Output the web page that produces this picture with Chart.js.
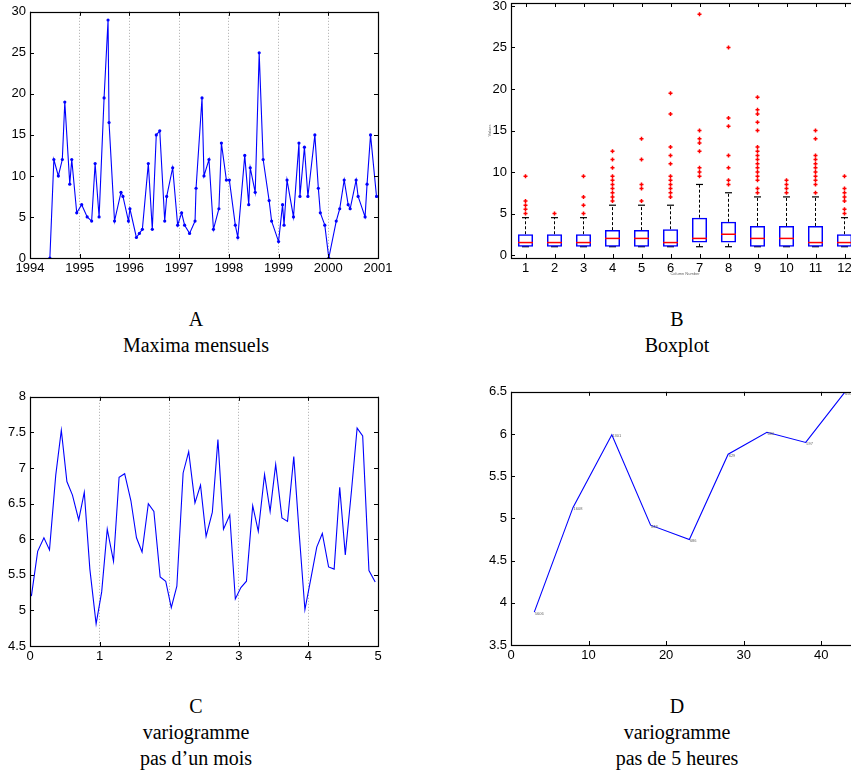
<!DOCTYPE html>
<html>
<head>
<meta charset="utf-8">
<script src="https://cdn.jsdelivr.net/npm/chart.js@4.4.0/dist/chart.umd.min.js"></script>
<style>
  html, body { margin: 0; padding: 0; background: #fff; width: 851px; height: 784px; overflow: hidden; }
  .panel { position: absolute; }
  .cap {
    position: absolute; width: 320px; text-align: center;
    font-family: "Liberation Serif", "DejaVu Serif", serif;
    font-size: 20px; line-height: 26px; color: #000;
  }
</style>
</head>
<body>

<canvas id="chartA" class="panel" width="400" height="285" style="left:0;top:0"></canvas>
<canvas id="chartB" class="panel" width="400" height="295" style="left:470px;top:-10px"></canvas>
<canvas id="chartC" class="panel" width="400" height="290" style="left:0;top:385px"></canvas>
<canvas id="chartD" class="panel" width="400" height="290" style="left:470px;top:380px"></canvas>

<div class="cap" style="left:36px;top:306px">A<br>Maxima mensuels</div>
<div class="cap" style="left:517px;top:306px">B<br>Boxplot</div>
<div class="cap" style="left:36px;top:693px">C<br>variogramme<br>pas d’un mois</div>
<div class="cap" style="left:517px;top:693px">D<br>variogramme<br>pas de 5 heures</div>

<script>
// ---- A : maxima mensuels ----
const aDates = [1994.40,1994.48,1994.57,1994.65,1994.70,1994.80,1994.84,1994.94,1995.04,1995.15,
  1995.24,1995.31,1995.39,1995.49,1995.57,1995.59,1995.70,1995.83,1995.87,1995.98,
  1996.01,1996.14,1996.20,1996.26,1996.38,1996.46,1996.54,1996.61,1996.71,1996.75,
  1996.87,1996.97,1997.05,1997.11,1997.21,1997.32,1997.34,1997.46,1997.50,1997.60,
  1997.69,1997.80,1997.85,1997.95,1998.01,1998.13,1998.18,1998.32,1998.40,1998.43,
  1998.53,1998.61,1998.69,1998.81,1998.86,1999.00,1999.08,1999.11,1999.17,1999.30,
  1999.41,1999.43,1999.52,1999.59,1999.73,1999.80,1999.84,1999.93,2000.01,2000.16,
  2000.23,2000.32,2000.40,2000.44,2000.56,2000.60,2000.74,2000.78,2000.85,2000.97]
const aMax = [0,12,10,12,19,9,12,5.5,6.5,5,
  4.5,11.5,5,19.5,29,16.5,4.5,8,7.5,4.5,
  6,2.5,3,3.5,11.5,3.5,15,15.5,4.5,7.5,
  11,4,5.5,4,3,4.5,8.5,19.5,10,12,
  3.5,6,14,9.5,9.5,4,2.5,12.5,6.5,11,
  8,25,12,7,4.5,2,6.5,4,9.5,5,
  14,7.5,13.5,7.5,15,8.5,5.5,4,0,4.5,
  6,9.5,6.5,6,9.5,7.5,5,9,15,7.5]
const aYearTicks = [1994,1995,1996,1997,1998,1999,2000,2001]
const aValueTicks = [0,5,10,15,20,25,30]

// ---- B : boxplot by month ----
const bColumns = [1,2,3,4,5,6,7,8,9,10,11,12]
const bQ1 = [1,1,1,1,1,1,1.5,1.5,1,1,1,1]
const bQ3 = [2.5,2.5,2.5,3,3,3.1,4.5,4,3.5,3.5,3.5,2.5]
const bMedian = [1.5,1.5,1.5,2,2,1.5,2,2.5,2,2,1.5,1.5]
const bWhiskHigh = [4.5,4.5,4.5,6,6,6,8.5,7.5,7,7,7,4.5]
const bWhiskLow = [1,1,1,1,1,1,1,1,1,1,1,1]
const bOutliers = [
  [5,5.5,6,6.5,9.5],
  [5],
  [5,6,7,9.5],
  [6.5,7,7.5,8,8.5,9,9.5,10.5,11.5,12.5],
  [6.5,8,8.5,11.5,14],
  [7,7.5,8,8.5,9,9.5,11,12,13,17,19.5],
  [9.5,10,10.5,12.5,13.5,14,15,29],
  [8.5,9,10.5,12,15.5,16.5,25],
  [7.5,8,9,9.5,10,10.5,11,11.5,12,12.5,13,15,16,17,17.5,19],
  [7.5,8,8.5,9],
  [7.5,8.5,9,9.5,10,10.5,11,11.5,12,14,15],
  [5,5.5,6.5,7,7.5,8,9.5]
]
const bValueTicks = [0,5,10,15,20,25,30]

// ---- C : variogramme, pas d'un mois ----
const cLags = [0.02,0.11,0.20,0.28,0.37,0.45,0.53,0.61,0.70,0.78,0.86,0.95,
  1.03,1.11,1.20,1.28,1.36,1.45,1.53,1.61,1.70,1.78,1.87,1.95,
  2.03,2.11,2.20,2.28,2.37,2.45,2.53,2.62,2.70,2.78,2.87,2.95,
  3.03,3.11,3.20,3.28,3.37,3.45,3.53,3.62,3.70,3.79,3.87,3.95,
  4.04,4.12,4.20,4.29,4.37,4.45,4.53,4.62,4.70,4.78,4.87,4.96]
const cGamma = [5.20,5.83,6.02,5.85,6.90,7.53,6.81,6.62,6.27,6.66,5.58,4.81,
  5.26,6.14,5.69,6.87,6.92,6.54,6.02,5.82,6.50,6.39,5.47,5.41,
  5.04,5.34,6.93,7.23,6.51,6.76,6.04,6.38,7.40,6.14,6.34,5.16,
  5.32,5.41,6.47,6.11,6.91,6.39,7.05,6.30,6.25,7.16,6.05,5.01,
  5.47,5.89,6.08,5.61,5.58,6.73,5.78,6.69,7.56,7.45,5.56,5.40]
const cLagTicks = [0,1,2,3,4,5]
const cGammaTicks = [4.5,5,5.5,6,6.5,7,7.5,8]

// ---- D : variogramme, pas de 5 heures ----
const dLags = [3,8,13,18,23,28,33,38,43]
const dGamma = [3.89,5.13,5.99,4.92,4.75,5.76,6.02,5.90,6.49]
const dPairs = ['5606','1608','1301','848','686','629','680','597','650']
const dLagTicks = [0,10,20,30,40]
const dGammaTicks = [3.5,4,4.5,5,5.5,6,6.5]

Chart.defaults.font.family = '"Liberation Sans", Arial, sans-serif'
Chart.defaults.font.size = 13
Chart.defaults.color = '#000'
Chart.defaults.animation = false
Chart.defaults.plugins.legend.display = false
Chart.defaults.plugins.tooltip.enabled = false

// matlab-ish box around the axes, ticks pointing inward
const framePlugin = {
  id: 'frame',
  afterDraw(chart) {
    const {ctx, chartArea: a, scales} = chart
    const tl = 4
    ctx.save()
    ctx.strokeStyle = '#000'
    ctx.lineWidth = 1
    ctx.beginPath()
    scales.x.ticks.forEach(t => {
      const px = Math.round(scales.x.getPixelForValue(t.value)) + 0.5
      ctx.moveTo(px, a.bottom); ctx.lineTo(px, a.bottom - tl)
      ctx.moveTo(px, a.top); ctx.lineTo(px, a.top + tl)
    })
    scales.y.ticks.forEach(t => {
      const py = Math.round(scales.y.getPixelForValue(t.value)) + 0.5
      ctx.moveTo(a.left, py); ctx.lineTo(a.left + tl, py)
      ctx.moveTo(a.right, py); ctx.lineTo(a.right - tl, py)
    })
    ctx.stroke()
    ctx.lineWidth = 1.2
    ctx.strokeRect(Math.round(a.left) + 0.5, Math.round(a.top) + 0.5,
      Math.round(a.right - a.left), Math.round(a.bottom - a.top))
    ctx.restore()
  }
}

// tiny pair-count labels next to the points of panel D
const pairLabelPlugin = {
  id: 'pairLabels',
  afterDatasetsDraw(chart, args, opts) {
    if (!opts.labels) return
    const ctx = chart.ctx
    const meta = chart.getDatasetMeta(0)
    ctx.save()
    ctx.font = '4px "Liberation Sans", Arial, sans-serif'
    ctx.fillStyle = '#666'
    ctx.textBaseline = 'middle'
    meta.data.forEach((pt, i) => ctx.fillText(opts.labels[i], pt.x + 0.5, pt.y + 1.5))
    ctx.restore()
  }
}

function fixedTicks(values) { return scale => { scale.ticks = values.map(v => ({value: v})) } }
function fixWidth(w) { return scale => { scale.width = w } }
function fixHeight(h) { return scale => { scale.height = h } }
const plainNumber = v => String(v)

function axes(o) {
  return {
    x: {
      type: 'linear', min: o.xMin, max: o.xMax, offset: false,
      afterBuildTicks: fixedTicks(o.xTicks), afterFit: fixHeight(o.xHeight),
      ticks: {padding: 3, maxRotation: 0, autoSkip: false, callback: plainNumber},
      grid: {display: !!o.xGrid, color: '#aaaaaa', lineWidth: 1, drawTicks: false},
      border: {display: false, dash: [1, 2]},
      title: o.xTitle || {display: false}
    },
    y: {
      type: 'linear', min: o.yMin, max: o.yMax,
      afterBuildTicks: fixedTicks(o.yTicks), afterFit: fixWidth(o.yWidth),
      ticks: {padding: 4, callback: plainNumber},
      grid: {display: false, drawTicks: false},
      border: {display: false},
      title: o.yTitle || {display: false}
    }
  }
}

// A
new Chart(document.getElementById('chartA'), {
  type: 'scatter',
  data: {
    datasets: [{
      data: aDates.map((d, i) => ({x: d, y: aMax[i]})),
      showLine: true, borderColor: '#0000ff', borderWidth: 1.1,
      pointRadius: 1.6, pointBackgroundColor: '#0000ff', pointBorderWidth: 0
    }]
  },
  options: {
    responsive: false,
    layout: {padding: {left: 0, top: 8, right: 22, bottom: 0}},
    scales: axes({xMin: 1994, xMax: 2001, xTicks: aYearTicks, xHeight: 27, xGrid: true,
                  yMin: 0, yMax: 30, yTicks: aValueTicks, yWidth: 30})
  },
  plugins: [framePlugin]
})

// B
const whiskerPath = []
const whiskerCaps = []
const outlierPoints = []
bColumns.forEach((c, i) => {
  whiskerPath.push({x: c, y: bQ3[i]}, {x: c, y: bWhiskHigh[i]}, {x: c, y: null})
  whiskerPath.push({x: c, y: bWhiskLow[i]}, {x: c, y: bQ1[i]}, {x: c, y: null})
  whiskerCaps.push({x: c, y: bWhiskHigh[i]}, {x: c, y: bWhiskLow[i]})
  bOutliers[i].forEach(v => outlierPoints.push({x: c, y: v}))
})

new Chart(document.getElementById('chartB'), {
  type: 'scatter',
  data: {
    datasets: [
      {type: 'scatter', data: whiskerPath, showLine: true, borderColor: '#000', borderWidth: 1,
       borderDash: [3, 2], pointRadius: 0, spanGaps: false, order: 3},
      {type: 'scatter', data: whiskerCaps, pointStyle: 'line', pointRadius: 3.5,
       pointBorderColor: '#000', pointBorderWidth: 1.2, order: 2},
      {type: 'bar', data: bColumns.map((c, i) => ({x: c, y: [bQ1[i], bQ3[i]]})),
       backgroundColor: 'rgba(255,255,255,0)', borderColor: '#0000ff', borderWidth: 1.5,
       borderSkipped: false, barPercentage: 0.52, categoryPercentage: 1, order: 1},
      {type: 'scatter', data: bColumns.map((c, i) => ({x: c, y: bMedian[i]})), pointStyle: 'line',
       pointRadius: 7.5, pointBorderColor: '#ff0000', pointBorderWidth: 1.5, order: 0},
      {type: 'scatter', data: outlierPoints, pointStyle: 'cross', pointRadius: 2,
       pointBorderColor: '#ff0000', pointBorderWidth: 1.5, order: 0}
    ]
  },
  options: {
    responsive: false,
    layout: {padding: {left: 0, top: 13, right: 11, bottom: 0}},
    scales: axes({xMin: 0.5, xMax: 12.5, xTicks: bColumns, xHeight: 27,
                  yMin: -0.36, yMax: 30.36, yTicks: bValueTicks, yWidth: 41,
                  xTitle: {display: true, text: 'Column Number', color: '#666',
                           font: {size: 4}, padding: {top: 0, bottom: 8.6}},
                  yTitle: {display: true, text: 'Values', color: '#666',
                           font: {size: 4}, padding: {top: 17, bottom: 0}}})
  },
  plugins: [framePlugin]
})

// C
new Chart(document.getElementById('chartC'), {
  type: 'scatter',
  data: {
    datasets: [{
      data: cLags.map((h, i) => ({x: h, y: cGamma[i]})),
      showLine: true, borderColor: '#0000ff', borderWidth: 1.1, pointRadius: 0
    }]
  },
  options: {
    responsive: false,
    layout: {padding: {left: 0, top: 11, right: 22, bottom: 0}},
    scales: axes({xMin: 0, xMax: 5, xTicks: cLagTicks, xHeight: 29, xGrid: true,
                  yMin: 4.5, yMax: 8, yTicks: cGammaTicks, yWidth: 30})
  },
  plugins: [framePlugin]
})

// D
new Chart(document.getElementById('chartD'), {
  type: 'scatter',
  data: {
    datasets: [{
      data: dLags.map((h, i) => ({x: h, y: dGamma[i]})),
      showLine: true, borderColor: '#0000ff', borderWidth: 1.1, pointRadius: 0
    }]
  },
  options: {
    responsive: false,
    layout: {padding: {left: 0, top: 10, right: 10, bottom: 0}},
    plugins: {pairLabels: {labels: dPairs}},
    scales: axes({xMin: 0, xMax: 45, xTicks: dLagTicks, xHeight: 25,
                  yMin: 3.5, yMax: 6.5, yTicks: dGammaTicks, yWidth: 41})
  },
  plugins: [framePlugin, pairLabelPlugin]
})
</script>
</body>
</html>
